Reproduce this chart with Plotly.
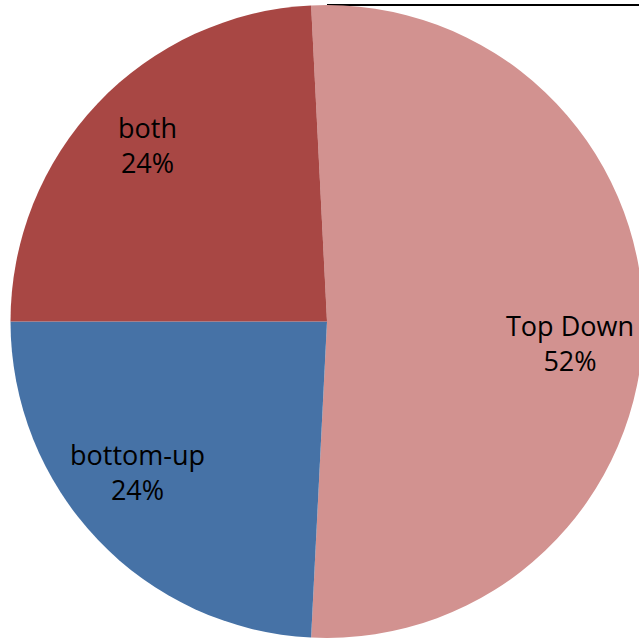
import math
import plotly.graph_objects as go

labels = ["Top Down", "bottom-up", "both"]
values = [51.6, 24.2, 24.2]
colors = ["#D29290", "#4672A6", "#A84744"]

# label placement style (fraction of radius, angular nudge in degrees)
label_r = [0.77, 0.765, 0.795]
label_dtheta = [5.0, 5.0, 1.0]

W, H = 660, 638
ROT = -2.88
dom_x = [10 / W, 644 / W]
dom_y = [0, 633 / H]

fig = go.Figure(go.Pie(
    labels=labels,
    values=values,
    sort=False,
    direction="clockwise",
    rotation=ROT,
    marker=dict(colors=colors, line=dict(width=0)),
    textinfo="none",
    showlegend=False,
    hoverinfo="label+percent",
    domain=dict(x=dom_x, y=dom_y),
))

# label annotations derived from the data
cx_px = (dom_x[0] + dom_x[1]) / 2 * W
cy_px = (dom_y[0] + dom_y[1]) / 2 * H  # from bottom
R = min((dom_x[1] - dom_x[0]) * W, (dom_y[1] - dom_y[0]) * H) / 2
total = sum(values)
start = ROT
for lab, v, fr, dt in zip(labels, values, label_r, label_dtheta):
    span = v / total * 360
    mid = math.radians(start + span / 2 + dt)
    start += span
    x = cx_px + fr * R * math.sin(mid)
    y = cy_px + fr * R * math.cos(mid)
    fig.add_annotation(
        x=x / W, y=y / H, xref="paper", yref="paper",
        text=f"{lab}<br>{round(v / total * 100)}%",
        showarrow=False, xanchor="center", yanchor="middle",
        font=dict(family="Open Sans", size=27, color="black"),
    )

fig.add_shape(type="line", xref="paper", yref="paper",
              x0=327 / W, x1=1, y0=1 - 5 / H, y1=1 - 5 / H,
              line=dict(color="#000000", width=2), layer="below")

fig.update_layout(
    width=W, height=H,
    margin=dict(l=0, r=0, t=0, b=0),
    paper_bgcolor="white",
    plot_bgcolor="white",
)

fig.write_html("out.html", post_script="document.body.style.overflow='hidden';document.body.style.margin='0';")
